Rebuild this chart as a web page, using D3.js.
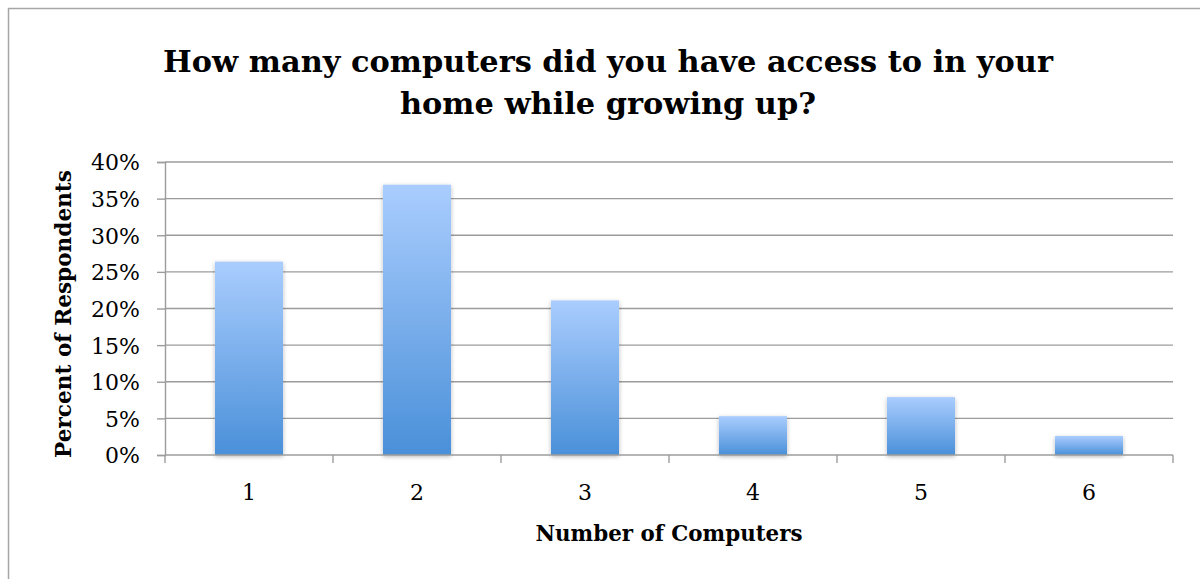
<!DOCTYPE html>
<html>
<head>
<meta charset="utf-8">
<script src="https://cdn.jsdelivr.net/npm/d3@7"></script>
<style>
  html, body { margin: 0; padding: 0; background: #fff; }
  svg { display: block; }
  text { font-family: "DejaVu Serif", "Liberation Serif", serif; fill: #000; }
</style>
</head>
<body>
<svg id="chart" width="1200" height="579"></svg>
<script>
// Survey results: share of respondents by number of home computers
const categories = ["1", "2", "3", "4", "5", "6"];
const percents = [26.4, 36.9, 21.1, 5.3, 7.9, 2.6];
const yTicks = [0, 5, 10, 15, 20, 25, 30, 35, 40];
const titleLines = ["How many computers did you have access to in your", "home while growing up?"];
const xTitle = "Number of Computers";
const yTitle = "Percent of Respondents";

const svg = d3.select("#chart");
const plot = { left: 165, right: 1173, top: 162, bottom: 455 };

// size a text element so that its natural width fills the given span
function fitWidth(sel, target) {
  sel.each(function () {
    const base = parseFloat(this.style.fontSize);
    const w = this.getComputedTextLength();
    if (w > 0) this.style.fontSize = (base * target / w).toFixed(2) + "px";
  });
}

// outer chart frame
svg.append("rect")
  .attr("x", 8.5).attr("y", 8.5)
  .attr("width", 1200).attr("height", 600)
  .attr("fill", "#fff").attr("stroke", "#a6a6a6").attr("stroke-width", 1.5);

const defs = svg.append("defs");
const grad = defs.append("linearGradient")
  .attr("id", "barFill").attr("x1", 0).attr("y1", 0).attr("x2", 0).attr("y2", 1);
grad.append("stop").attr("offset", "0%").attr("stop-color", "#aacdfe");
grad.append("stop").attr("offset", "100%").attr("stop-color", "#4a90d9");

const shadow = defs.append("filter").attr("id", "barShadow")
  .attr("x", "-20%").attr("y", "-10%").attr("width", "140%").attr("height", "130%");
shadow.append("feDropShadow")
  .attr("dx", 0).attr("dy", 1.5).attr("stdDeviation", 2.2)
  .attr("flood-color", "#000").attr("flood-opacity", 0.3);

const x = d3.scaleBand().domain(categories)
  .range([plot.left, plot.right]).paddingInner(0.595).paddingOuter(0.2975);
const xOuter = d3.scaleBand().domain(categories).range([plot.left, plot.right]);
const y = d3.scaleLinear().domain([0, 40]).range([plot.bottom, plot.top]);

// horizontal gridlines
svg.append("g").selectAll("line").data(yTicks.filter(d => d > 0)).join("line")
  .attr("x1", plot.left).attr("x2", plot.right)
  .attr("y1", d => y(d)).attr("y2", d => y(d))
  .attr("stroke", "#9c9c9c").attr("stroke-width", 1.4);

// y axis
const yAxis = svg.append("g").attr("transform", `translate(${plot.left},0)`)
  .call(d3.axisLeft(y).tickValues(yTicks).tickSize(8).tickPadding(17).tickFormat(d => d + "%"));
yAxis.select(".domain").attr("stroke", "#9c9c9c").attr("stroke-width", 1.4);
yAxis.selectAll(".tick line").attr("stroke", "#9c9c9c").attr("stroke-width", 1.4);
yAxis.selectAll(".tick text")
  .style("font-family", "'DejaVu Serif', serif").style("font-size", "22px")
  .attr("fill", "#000").attr("dy", "0.36em");

// bars
svg.append("g").selectAll("rect").data(percents).join("rect")
  .attr("x", (d, i) => x(categories[i]))
  .attr("y", d => y(d))
  .attr("width", x.bandwidth())
  .attr("height", d => plot.bottom - y(d))
  .attr("fill", "url(#barFill)")
  .attr("filter", "url(#barShadow)");

// x axis baseline and boundary ticks
const boundaries = categories.map(c => xOuter(c)).concat([plot.right]);
const xg = svg.append("g");
xg.append("line").attr("x1", plot.left).attr("x2", plot.right)
  .attr("y1", plot.bottom).attr("y2", plot.bottom)
  .attr("stroke", "#9c9c9c").attr("stroke-width", 1.4);
xg.selectAll("line.tk").data(boundaries).join("line").attr("class", "tk")
  .attr("x1", d => d).attr("x2", d => d)
  .attr("y1", plot.bottom).attr("y2", plot.bottom + 8)
  .attr("stroke", "#9c9c9c").attr("stroke-width", 1.4);
xg.selectAll("text").data(categories).join("text")
  .attr("x", d => xOuter(d) + xOuter.bandwidth() / 2)
  .attr("y", 500)
  .attr("text-anchor", "middle")
  .style("font-size", "22px")
  .text(d => d);

// titles
const titleWidths = [890, 420];
const titles = svg.append("g").selectAll("text").data(titleLines).join("text")
  .attr("x", 608).attr("y", (d, i) => 72 + i * 42)
  .attr("text-anchor", "middle")
  .style("font-size", "32px").style("font-weight", "bold")
  .text(d => d);
fitWidth(titles.filter((d, i) => i === 0), titleWidths[0]);
titles.filter((d, i) => i === 1).style("font-size", titles.filter((d, i) => i === 0).style("font-size"));

const xt = svg.append("text")
  .attr("x", (plot.left + plot.right) / 2).attr("y", 541)
  .attr("text-anchor", "middle")
  .style("font-size", "20px").style("font-weight", "bold")
  .text(xTitle);
fitWidth(xt, 267);

const yt = svg.append("text")
  .attr("transform", "translate(71,314) rotate(-90)")
  .attr("text-anchor", "middle")
  .style("font-size", "20px").style("font-weight", "bold")
  .text(yTitle);
fitWidth(yt, 288);
</script>
</body>
</html>
